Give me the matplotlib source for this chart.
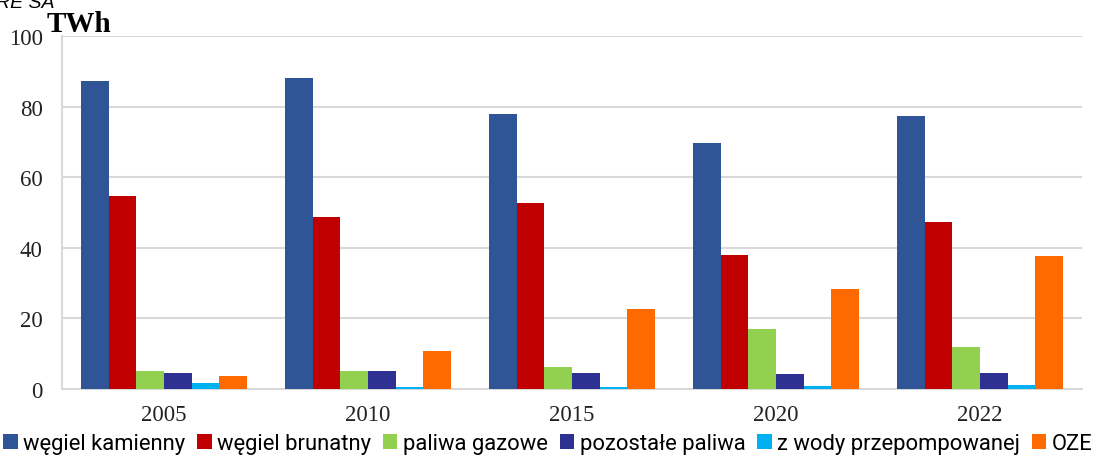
import numpy as np
import matplotlib
matplotlib.use('Agg')
import matplotlib.pyplot as plt

# dane (TWh)
years = ['2005', '2010', '2015', '2020', '2022']
series = ['węgiel kamienny', 'węgiel brunatny', 'paliwa gazowe',
          'pozostałe paliwa', 'z wody przepompowanej', 'OZE']
wegiel_kamienny = [87.3, 88.1, 77.9, 69.7, 77.3]
wegiel_brunatny = [54.7, 48.7, 52.7, 38.0, 47.3]
paliwa_gazowe = [5.1, 5.0, 6.2, 17.0, 11.9]
pozostale_paliwa = [4.5, 5.0, 4.5, 4.4, 4.5]
z_wody = [1.7, 0.5, 0.5, 0.8, 1.1]
oze = [3.7, 10.8, 22.7, 28.3, 37.7]

values = [wegiel_kamienny, wegiel_brunatny, paliwa_gazowe,
          pozostale_paliwa, z_wody, oze]
colors = ['#2F5597', '#C00000', '#92D050', '#2E3192', '#00B0F0', '#FF6A00']

fig = plt.figure(figsize=(10.96, 4.6), dpi=100)
ax = fig.add_axes([0.0566, 0.152, 0.9306, 0.7676])

x = np.arange(len(years))
w = 0.135
for i, (name, vals) in enumerate(zip(series, values)):
    ax.bar(x + (i - 2.5) * w, vals, width=w, color=colors[i], label=name, zorder=3)

ax.set_xlim(-0.5, len(years) - 0.5)
ax.set_ylim(0, 100)
ax.set_yticks(range(0, 101, 20))
ax.set_xticks(x)
ax.set_xticklabels(years)
ax.grid(axis='y', color='#D9D9D9', linewidth=1.5, zorder=0)
ax.tick_params(length=0, labelsize=16.5, labelcolor='#222222')
for lab in ax.get_xticklabels() + ax.get_yticklabels():
    lab.set_fontfamily('Liberation Serif')
ax.tick_params(axis='y', pad=14)
ax.tick_params(axis='x', pad=11)

for s in ['top', 'right']:
    ax.spines[s].set_visible(False)
ax.spines['left'].set_color('#D9D9D9')
ax.spines['left'].set_linewidth(1.5)
ax.spines['bottom'].set_color('#D9D9D9')
ax.spines['bottom'].set_linewidth(1.5)

fig.text(47 / 1096, 1 - 32 / 460, 'TWh', fontfamily='Liberation Serif', fontweight='bold',
         fontsize=21, va='baseline', ha='left')
fig.text(-0.004, 1 - 8 / 460, 'RE SA', fontfamily='Liberation Sans', fontstyle='italic',
         fontsize=14, va='baseline', ha='left')

leg = fig.legend(loc='center', bbox_to_anchor=(0.5, 1 - 445 / 460), ncol=6,
                 frameon=False, prop={'family': 'Roboto', 'size': 15.8},
                 handlelength=0.65, handleheight=0.65, handletextpad=0.25,
                 columnspacing=0.55, borderaxespad=0)

fig.savefig('out.png', dpi=100)
